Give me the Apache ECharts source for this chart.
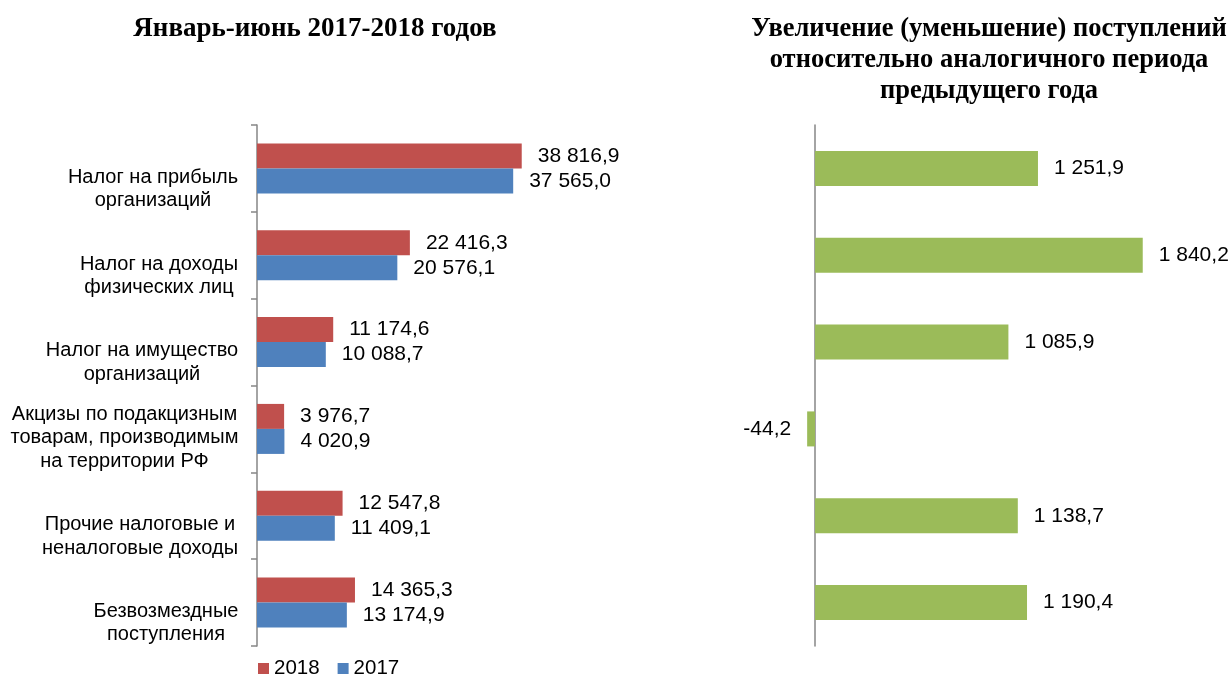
<!DOCTYPE html>
<html><head><meta charset="utf-8">
<script src="https://cdn.jsdelivr.net/npm/echarts@6/dist/echarts.min.js"></script>
<style>html,body{margin:0;padding:0;background:#fff}#c{width:1232px;height:677px}</style>
</head><body><div id="c"></div>
<script>
const categories = [
  "Налог на прибыль\nорганизаций",
  "Налог на доходы\nфизических лиц",
  "Налог на имущество\nорганизаций",
  "Акцизы по подакцизным\nтоварам, производимым\nна территории РФ",
  "Прочие налоговые и\nненалоговые доходы",
  "Безвозмездные\nпоступления"
];
const values2018 = [38816.9, 22416.3, 11174.6, 3976.7, 12547.8, 14365.3];
const values2017 = [37565.0, 20576.1, 10088.7, 4020.9, 11409.1, 13174.9];
const changes = [1251.9, 1840.2, 1085.9, -44.2, 1138.7, 1190.4];
const leftTitle = "Январь-июнь 2017-2018 годов";
const rightTitle = "Увеличение (уменьшение) поступлений\nотносительно аналогичного периода\nпредыдущего года";

function fmt(v){
  const neg = v < 0;
  let s = Math.abs(v).toFixed(1);
  let [i, d] = s.split('.');
  i = i.replace(/\B(?=(\d{3})+(?!\d))/g, ' ');
  return (neg ? '-' : '') + i + ',' + d;
}

const sans = '"Liberation Sans", Arial, sans-serif';
const serif = '"Liberation Serif", "Times New Roman", serif';
const catFont = 20, catLine = 23.5, blockH = 88;

// measure each label's widest line so lines can be centred within a right-aligned block
const cnv = document.createElement('canvas').getContext('2d');
cnv.font = catFont + 'px ' + sans;
const rich = {};
categories.forEach((c, i) => {
  const lines = c.split('\n');
  const w = Math.max(...lines.map(l => cnv.measureText(l).width));
  rich['r' + i] = {width: Math.ceil(w) + 1, align: 'center', fontSize: catFont, lineHeight: catLine, fontFamily: sans, color: '#000'};
  rich['s' + i] = {fontSize: 1, lineHeight: blockH - catLine * lines.length, height: blockH - catLine * lines.length};
});
function catFormatter(val, idx){
  const lines = val.split('\n');
  return '{s' + idx + '| }\n' + lines.map(l => '{r' + idx + '|' + l + '}').join('\n');
}

const chart = echarts.init(document.getElementById('c'));
const labelStyle = {show: true, position: 'right', distance: 16, color: '#000', fontSize: 21, fontFamily: sans, formatter: p => fmt(p.value)};

chart.setOption({
  animation: false,
  title: [
    {text: leftTitle, left: 310, top: 8.5, textAlign: 'center', textStyle: {fontFamily: serif, fontWeight: 'bold', fontSize: 27, color: '#000', lineHeight: 31}},
    {text: rightTitle, left: 984, top: 8.5, textAlign: 'center', textStyle: {fontFamily: serif, fontWeight: 'bold', fontSize: 26.5, color: '#000', lineHeight: 31}}
  ],
  legend: {
    data: ['2018', '2017'], left: 258, top: 658, padding: 0, itemWidth: 11, itemHeight: 11, itemGap: 18,
    icon: 'rect', textStyle: {fontFamily: sans, fontSize: 20.5, color: '#000'}
  },
  grid: [
    {left: 257, top: 125, width: 341, height: 521},
    {left: 815 - 35.6, top: 125, width: 391.8, height: 521}
  ],
  xAxis: [
    {gridIndex: 0, type: 'value', min: 0, max: 50000, show: false},
    {gridIndex: 1, type: 'value', min: -200, max: 2000, show: false}
  ],
  yAxis: [
    {gridIndex: 0, type: 'category', data: categories, inverse: true,
     axisLine: {lineStyle: {color: '#868686', width: 1.5}},
     axisTick: {show: true, length: 6, interval: 0, lineStyle: {color: '#868686', width: 1.5}},
     axisLabel: {interval: 0, align: 'right', verticalAlign: 'middle', margin: 18, formatter: catFormatter, rich: rich}},
    {gridIndex: 1, type: 'category', data: categories, inverse: true,
     axisLine: {onZero: true, lineStyle: {color: '#868686', width: 1.5}},
     axisTick: {show: false}, axisLabel: {show: false}}
  ],
  series: [
    {name: '2018', type: 'bar', xAxisIndex: 0, yAxisIndex: 0, data: values2018, barWidth: 25, barGap: '0%',
     itemStyle: {color: '#C0504D'}, label: labelStyle},
    {name: '2017', type: 'bar', xAxisIndex: 0, yAxisIndex: 0, data: values2017, barWidth: 25, barGap: '0%',
     itemStyle: {color: '#4F81BD'}, label: labelStyle},
    {name: 'change', type: 'bar', xAxisIndex: 1, yAxisIndex: 1, barWidth: 35,
     data: changes.map(v => v < 0 ? {value: v, label: {position: 'left'}} : v),
     itemStyle: {color: '#9BBB59'}, label: labelStyle}
  ]
});
</script></body></html>
